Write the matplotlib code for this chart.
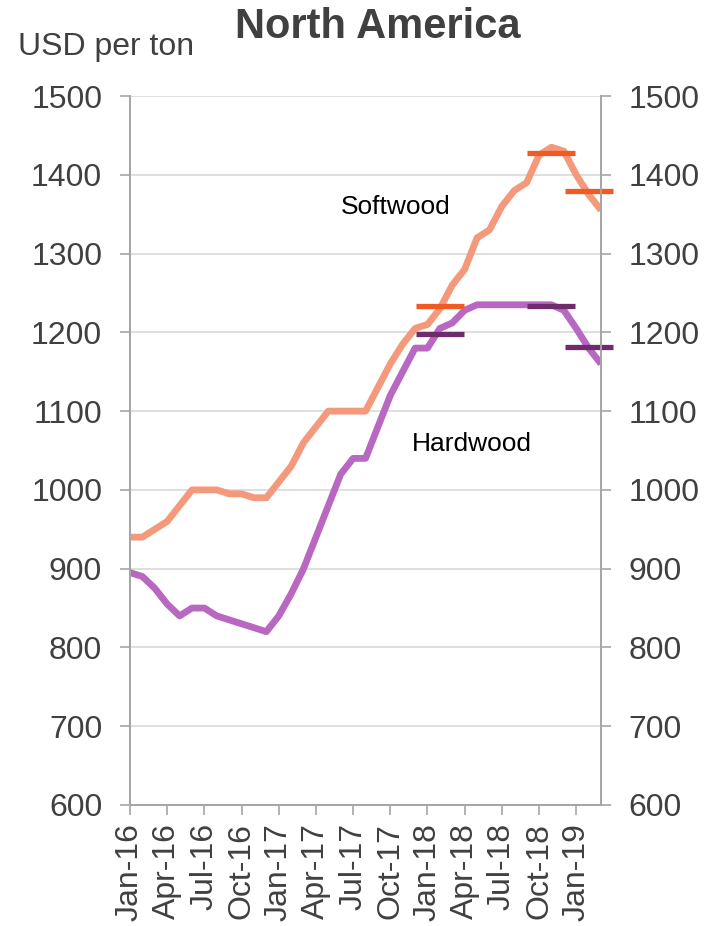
import numpy as np
import matplotlib
matplotlib.use("Agg")
import matplotlib.pyplot as plt

plt.rcParams['font.family'] = ['Liberation Sans', 'DejaVu Sans']

# monthly prices, Jan-16 .. Mar-19
months = ['Jan-16', 'Feb-16', 'Mar-16', 'Apr-16', 'May-16', 'Jun-16', 'Jul-16', 'Aug-16',
          'Sep-16', 'Oct-16', 'Nov-16', 'Dec-16', 'Jan-17', 'Feb-17', 'Mar-17', 'Apr-17',
          'May-17', 'Jun-17', 'Jul-17', 'Aug-17', 'Sep-17', 'Oct-17', 'Nov-17', 'Dec-17',
          'Jan-18', 'Feb-18', 'Mar-18', 'Apr-18', 'May-18', 'Jun-18', 'Jul-18', 'Aug-18',
          'Sep-18', 'Oct-18', 'Nov-18', 'Dec-18', 'Jan-19', 'Feb-19', 'Mar-19']
softwood = [940, 940, 950, 960, 980, 1000, 1000, 1000, 995, 995, 990, 990,
            1010, 1030, 1060, 1080, 1100, 1100, 1100, 1100, 1130, 1160, 1185, 1205,
            1210, 1230, 1260, 1280, 1320, 1330, 1360, 1380, 1390, 1425, 1435, 1430,
            1400, 1375, 1355]
hardwood = [895, 890, 875, 855, 840, 850, 850, 840, 835, 830, 825, 820,
            840, 868, 900, 940, 980, 1020, 1040, 1040, 1080, 1120, 1150, 1180,
            1180, 1205, 1212, 1228, 1235, 1235, 1235, 1235, 1235, 1235, 1235, 1228,
            1205, 1180, 1160]

# forecast markers
fc_months = ['Feb-18', 'Nov-18', 'Feb-19']
fc_softwood = [1233, 1428, 1380]
fc_hardwood = [1198, 1233, 1182]

tick_labels = months[::3]

x = np.arange(len(months))
fc_x = [months.index(m) for m in fc_months]

grey = '#404040'
axis_grey = '#A6A6A6'
fig = plt.figure(figsize=(7.07, 9.26), dpi=100)
ax = fig.add_axes([0.1839, 0.1307, 0.6662, 0.7656])

ax.plot(x, softwood, color='#F4997B', lw=4.9, solid_capstyle='butt', zorder=3)
ax.plot(x, hardwood, color='#B968C2', lw=4.9, solid_capstyle='butt', zorder=3)

ax.plot(fc_x, fc_softwood, ls='none', marker='_', ms=34, mew=3.8,
        color='#F05A24', zorder=4, clip_on=False)
ax.plot(fc_x, fc_hardwood, ls='none', marker='_', ms=34, mew=3.8,
        color='#6E2C6E', zorder=4, clip_on=False)

ax.set_xlim(0, len(months) - 1)
ax.set_ylim(600, 1500)
ax.set_yticks(np.arange(600, 1501, 100))
ax.set_xticks(x[::3])
ax.set_xticklabels(tick_labels, rotation=90)
ax.yaxis.grid(True, color='#D9D9D9', lw=1.2)
ax.set_axisbelow(True)

ax2 = ax.twinx()
ax2.set_ylim(600, 1500)
ax2.set_yticks(np.arange(600, 1501, 100))

for a in (ax, ax2):
    a.spines['top'].set_visible(False)
    for side in ['left', 'right', 'bottom']:
        a.spines[side].set_color(axis_grey)
        a.spines[side].set_linewidth(1.3)
ax.tick_params(axis='both', colors=axis_grey, length=7, width=1.2,
               labelsize=23, labelcolor=grey)
ax.tick_params(axis='y', pad=13)
ax.tick_params(axis='x', pad=6)
ax2.tick_params(axis='y', colors=axis_grey, length=7, width=1.2,
                labelsize=23, labelcolor=grey, pad=13)

ax.text(21.4, 1359, 'Softwood', fontsize=19, color='black',
        ha='center', va='center')
ax.text(27.6, 1058, 'Hardwood', fontsize=19, color='black',
        ha='center', va='center')

fig.text(0.534, 0.971, 'North America', fontsize=30, fontweight='bold',
         color=grey, ha='center', va='center')
fig.text(0.025, 0.949, 'USD per ton', fontsize=23, color=grey,
         ha='left', va='center')

fig.savefig('out.png', dpi=100)
